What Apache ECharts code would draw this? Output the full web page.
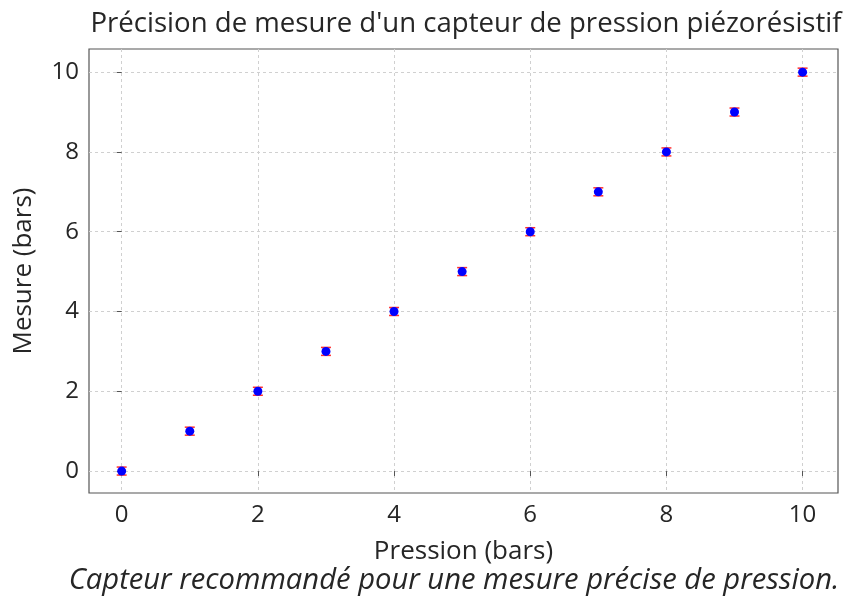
<!DOCTYPE html>
<html><head><meta charset="utf-8">
<script src="https://cdn.jsdelivr.net/npm/echarts@6/dist/echarts.min.js"></script>
<style>html,body{margin:0;padding:0;background:#fff}#c{width:844px;height:598px}</style>
</head><body><div id="c"></div>
<script>
const pressions = [0,1,2,3,4,5,6,7,8,9,10];
const mesures = [0,1,2,3,4,5,6,7,8,9,10];
const erreurs = [0.1,0.1,0.1,0.1,0.1,0.1,0.1,0.1,0.1,0.1,0.1];
const xTicks = [0,2,4,6,8,10];
const yTicks = [0,2,4,6,8,10];

const FONT = '"Open Sans", "DejaVu Sans", sans-serif';
const TXT = '#262626';
const chart = echarts.init(document.getElementById('c'));
const pts = pressions.map((p,i)=>[p, mesures[i]]);
const errData = pressions.map((p,i)=>[p, mesures[i]-erreurs[i], mesures[i]+erreurs[i]]);

chart.setOption({
  animation:false,
  title:[{text:"Précision de mesure d'un capteur de pression piézorésistif", left:461, top:5, textAlign:'center',
    textStyle:{fontFamily:FONT,fontSize:27.6,fontWeight:'normal',color:TXT}},
    {text:"Capteur recommandé pour une mesure précise de pression.", left:449, top:561, textAlign:'center',
    textStyle:{fontFamily:FONT,fontSize:29.2,fontWeight:'normal',fontStyle:'italic',color:TXT}}],
  grid:{left:89,right:6,top:49,bottom:105,show:true,borderColor:'#555',borderWidth:1.2},
  xAxis:{type:'value',min:-0.48,max:10.52,
    name:'Pression (bars)',nameLocation:'middle',nameGap:46,
    nameTextStyle:{fontFamily:FONT,fontSize:26,color:TXT},
    axisLine:{show:false},
    axisTick:{show:true,length:5,lineStyle:{color:'#555'},customValues:xTicks},
    axisLabel:{fontFamily:FONT,fontSize:24,color:TXT,margin:10,customValues:xTicks},
    splitLine:{show:true,lineStyle:{type:[3,3],color:'#d0d0d0'}}},
  yAxis:{type:'value',min:-0.55,max:10.58,
    name:'Mesure (bars)',nameLocation:'middle',nameGap:52,
    nameTextStyle:{fontFamily:FONT,fontSize:26,color:TXT},
    axisLine:{show:false},
    axisTick:{show:true,length:5,lineStyle:{color:'#555'},customValues:yTicks},
    axisLabel:{fontFamily:FONT,fontSize:24,color:TXT,margin:10,customValues:yTicks},
    splitLine:{show:true,lineStyle:{type:[3,3],color:'#d0d0d0'}}},
  series:[
    {type:'custom',data:errData,z:2,
     renderItem:function(params,api){
       const lo=api.coord([api.value(0),api.value(1)]);
       const hi=api.coord([api.value(0),api.value(2)]);
       const w=5;
       return {type:'group',children:[
         {type:'line',shape:{x1:lo[0],y1:lo[1],x2:hi[0],y2:hi[1]},style:{stroke:'#ff3030',lineWidth:1.5}},
         {type:'line',shape:{x1:lo[0]-w,y1:lo[1],x2:lo[0]+w,y2:lo[1]},style:{stroke:'#ff3030',lineWidth:1.5}},
         {type:'line',shape:{x1:hi[0]-w,y1:hi[1],x2:hi[0]+w,y2:hi[1]},style:{stroke:'#ff3030',lineWidth:1.5}}
       ]};
     }},
    {type:'scatter',data:pts,symbol:'circle',symbolSize:9,z:3,
     itemStyle:{color:'#0000ff',opacity:1}}
  ]
});
</script></body></html>
